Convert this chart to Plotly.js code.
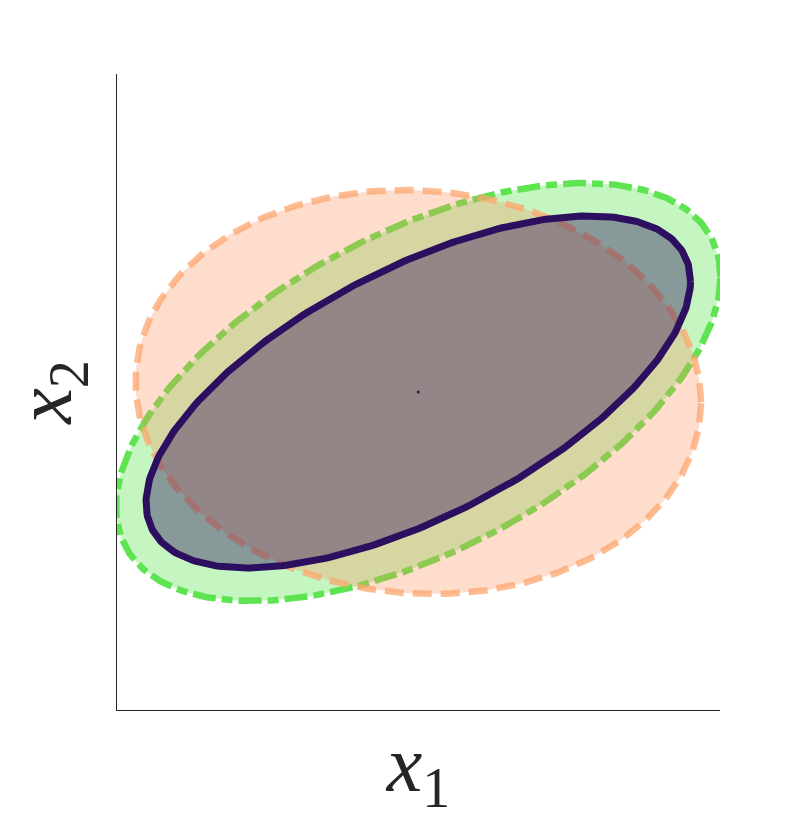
<!DOCTYPE html>
<html>
<head>
<meta charset="utf-8">
<script src="https://cdn.plot.ly/plotly-3.0.1.min.js"></script>
<style>
  html, body { margin: 0; padding: 0; background: #fff; }
  #plot { width: 797px; height: 828px; }
</style>
</head>
<body>
<div id="plot"></div>
<script>
// ellipse parameters (draw order: green, orange, navy)
var names   = ['green', 'orange', 'navy'];
var centerX = [0, 0, 0];
var centerY = [0, 0, 0];
var spreadX = [3.02, 2.825, 2.72];   // half-width of each ellipse
var spreadY = [2.09, 2.02, 1.76];    // half-height of each ellipse
var corr    = [0.55, -0.05, 0.63];   // tilt, as a correlation

// mean point
var meanX = [0];
var meanY = [0];

// styles
var lineColors = ['rgb(94,228,80)', 'rgba(252,165,110,0.75)', 'rgb(45,15,95)'];
var fillColors = ['rgba(94,228,80,0.36)', 'rgba(252,141,89,0.3)', 'rgba(45,15,95,0.4)'];
var dashes     = ['23px,6px,11px,6px', '19px,9px', 'solid'];
var widths     = [6.5, 6.5, 7];

// ellipse outline from centre, spreads and correlation
function ellipse(i) {
  var xs = [], ys = [];
  var n = 360;
  var s = Math.sqrt(1 - corr[i] * corr[i]);
  for (var k = 0; k <= n; k++) {
    var t = 2 * Math.PI * k / n;
    xs.push(centerX[i] + spreadX[i] * Math.cos(t));
    ys.push(centerY[i] + spreadY[i] * (corr[i] * Math.cos(t) + s * Math.sin(t)));
  }
  return {x: xs, y: ys};
}

var data = [];
for (var i = 0; i < names.length; i++) {
  var e = ellipse(i);
  data.push({
    x: e.x,
    y: e.y,
    name: names[i],
    type: 'scatter',
    mode: 'lines',
    fill: 'toself',
    fillcolor: fillColors[i],
    line: {color: lineColors[i], width: widths[i], dash: dashes[i]},
    hoverinfo: 'skip'
  });
}
data.push({
  x: meanX,
  y: meanY,
  type: 'scatter',
  mode: 'markers',
  marker: {color: 'rgb(45,15,95)', size: 3},
  hoverinfo: 'skip'
});

var labelFont = {family: 'Liberation Serif', size: 80, color: '#262626'};

var layout = {
  width: 797,
  height: 828,
  showlegend: false,
  paper_bgcolor: '#fff',
  plot_bgcolor: '#fff',
  margin: {l: 117, r: 77, t: 74, b: 118},
  xaxis: {
    range: [-3.01, 3.015],
    showline: true,
    linecolor: '#262626',
    linewidth: 1,
    showgrid: false,
    zeroline: false,
    ticks: '',
    showticklabels: false,
    title: {text: '<i>x</i><sub>1</sub>', font: labelFont, standoff: 24}
  },
  yaxis: {
    range: [-3.18, 3.18],
    showline: true,
    linecolor: '#262626',
    linewidth: 1,
    showgrid: false,
    zeroline: false,
    ticks: '',
    showticklabels: false,
    title: {text: '<i>x</i><sub>2</sub>', font: labelFont, standoff: 29}
  }
};

Plotly.newPlot('plot', data, layout, {displayModeBar: false, staticPlot: true});
</script>
</body>
</html>
